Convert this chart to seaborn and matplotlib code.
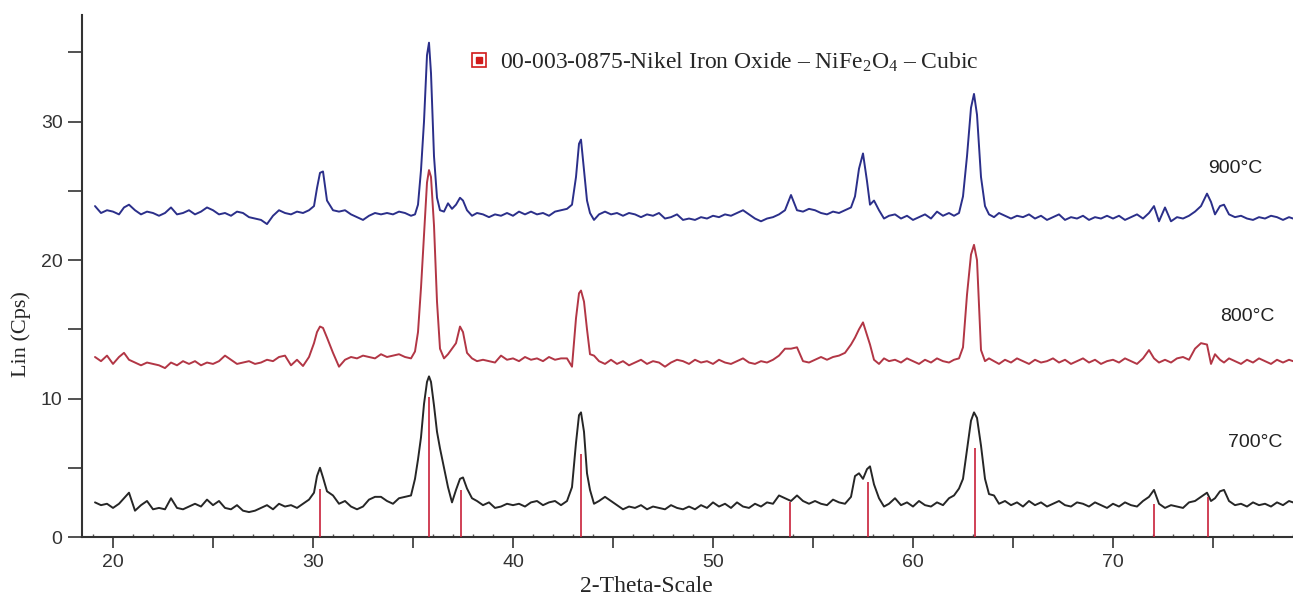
import numpy as np
import pandas as pd
import matplotlib
matplotlib.use("Agg")
import matplotlib.pyplot as plt
from matplotlib.lines import Line2D
from matplotlib.ticker import MultipleLocator, FuncFormatter
import seaborn as sns

# 2-theta grid shared by the three scans
two_theta = [
    19.1, 19.4, 19.7, 20.0, 20.3, 20.55, 20.8, 21.1, 21.4, 21.7,
    22.0, 22.3, 22.6, 22.9, 23.2, 23.5, 23.8, 24.1, 24.4, 24.7,
    25.0, 25.3, 25.6, 25.9, 26.2, 26.5, 26.8, 27.1, 27.4, 27.7,
    28.0, 28.3, 28.6, 28.9, 29.2, 29.5, 29.8, 30.05, 30.2, 30.35,
    30.5, 30.7, 31.0, 31.3, 31.6, 31.9, 32.2, 32.5, 32.8, 33.1,
    33.4, 33.7, 34.0, 34.3, 34.6, 34.9, 35.1, 35.25, 35.4, 35.55,
    35.7, 35.8, 35.9, 36.05, 36.2, 36.35, 36.55, 36.75, 36.95, 37.15,
    37.35, 37.5, 37.7, 37.95, 38.2, 38.5, 38.8, 39.1, 39.4, 39.7,
    40.0, 40.3, 40.6, 40.9, 41.2, 41.5, 41.8, 42.1, 42.4, 42.7,
    42.95, 43.15, 43.3, 43.4, 43.55, 43.7, 43.85, 44.05, 44.3, 44.6,
    44.9, 45.2, 45.5, 45.8, 46.1, 46.4, 46.7, 47.0, 47.3, 47.6,
    47.9, 48.2, 48.5, 48.8, 49.1, 49.4, 49.7, 50.0, 50.3, 50.6,
    50.9, 51.2, 51.5, 51.8, 52.1, 52.4, 52.7, 53.0, 53.3, 53.6,
    53.9, 54.2, 54.5, 54.8, 55.1, 55.4, 55.7, 56.0, 56.3, 56.6,
    56.9, 57.1, 57.3, 57.5, 57.7, 57.85, 58.05, 58.3, 58.55, 58.8,
    59.1, 59.4, 59.7, 60.0, 60.3, 60.6, 60.9, 61.2, 61.5, 61.8,
    62.05, 62.3, 62.5, 62.7, 62.9, 63.05, 63.2, 63.4, 63.6, 63.8,
    64.05, 64.3, 64.6, 64.9, 65.2, 65.5, 65.8, 66.1, 66.4, 66.7,
    67.0, 67.3, 67.6, 67.9, 68.2, 68.5, 68.8, 69.1, 69.4, 69.7,
    70.0, 70.3, 70.6, 70.9, 71.2, 71.5, 71.8, 72.05, 72.3, 72.6,
    72.9, 73.2, 73.5, 73.8, 74.1, 74.4, 74.7, 74.9, 75.1, 75.35,
    75.55, 75.8, 76.1, 76.4, 76.7, 77.0, 77.3, 77.6, 77.9, 78.2,
    78.5, 78.8, 79.0,
]

lin_700 = [
    2.5, 2.3, 2.4, 2.1, 2.4, 2.8, 3.2, 1.9, 2.3, 2.6,
    2.0, 2.1, 2.0, 2.8, 2.1, 2.0, 2.2, 2.4, 2.2, 2.7,
    2.3, 2.6, 2.1, 2.0, 2.3, 1.9, 1.8, 1.9, 2.1, 2.3,
    2.0, 2.4, 2.2, 2.3, 2.1, 2.4, 2.7, 3.2, 4.4, 5.0,
    4.3, 3.3, 3.0, 2.4, 2.6, 2.2, 2.0, 2.2, 2.7, 2.9,
    2.9, 2.6, 2.4, 2.8, 2.9, 3.0, 4.2, 5.6, 7.2, 9.6,
    11.2, 11.6, 11.2, 9.5, 7.6, 6.4, 5.0, 3.6, 2.5, 3.4,
    4.2, 4.3, 3.5, 2.8, 2.6, 2.3, 2.5, 2.1, 2.2, 2.4,
    2.3, 2.4, 2.2, 2.5, 2.6, 2.3, 2.5, 2.6, 2.3, 2.6,
    3.6, 6.8, 8.8, 9.0, 7.6, 4.6, 3.4, 2.4, 2.6, 2.9,
    2.6, 2.3, 2.0, 2.2, 2.1, 2.3, 2.0, 2.2, 2.1, 2.0,
    2.3, 2.1, 2.0, 2.2, 2.0, 2.3, 2.1, 2.5, 2.2, 2.4,
    2.1, 2.5, 2.2, 2.1, 2.4, 2.2, 2.5, 2.4, 3.0, 2.8,
    2.6, 3.0, 2.6, 2.4, 2.6, 2.4, 2.3, 2.7, 2.5, 2.4,
    2.9, 4.4, 4.6, 4.2, 4.9, 5.1, 3.8, 2.8, 2.2, 2.4,
    2.8, 2.3, 2.5, 2.2, 2.6, 2.3, 2.2, 2.5, 2.3, 2.8,
    3.0, 3.5, 4.2, 6.3, 8.4, 9.0, 8.6, 6.6, 4.2, 3.1,
    3.0, 2.4, 2.6, 2.3, 2.5, 2.2, 2.6, 2.3, 2.5, 2.2,
    2.4, 2.6, 2.3, 2.2, 2.5, 2.4, 2.2, 2.5, 2.3, 2.1,
    2.4, 2.2, 2.5, 2.3, 2.2, 2.6, 2.9, 3.4, 2.4, 2.1,
    2.3, 2.2, 2.1, 2.5, 2.6, 2.9, 3.2, 2.6, 2.8, 3.3,
    3.4, 2.6, 2.3, 2.4, 2.2, 2.5, 2.3, 2.4, 2.2, 2.5,
    2.3, 2.6, 2.5,
]

lin_800 = [
    13.0, 12.7, 13.1, 12.5, 13.0, 13.3, 12.8, 12.6, 12.4, 12.6,
    12.5, 12.4, 12.2, 12.6, 12.4, 12.7, 12.5, 12.7, 12.4, 12.6,
    12.5, 12.7, 13.1, 12.8, 12.5, 12.6, 12.7, 12.5, 12.6, 12.8,
    12.7, 13.0, 13.1, 12.4, 12.8, 12.35, 13.0, 14.0, 14.8, 15.2,
    15.1, 14.4, 13.3, 12.3, 12.8, 13.0, 12.9, 13.1, 13.0, 12.9,
    13.2, 13.0, 13.1, 13.2, 13.0, 12.9, 13.4, 14.8, 18.0, 21.8,
    25.6, 26.5, 26.0, 22.5, 17.0, 13.6, 12.9, 13.2, 13.6, 14.0,
    15.2, 14.8, 13.3, 12.9, 12.7, 12.8, 12.7, 12.6, 13.1, 12.8,
    12.9, 12.7, 13.0, 12.8, 12.9, 12.7, 13.0, 12.8, 12.9, 12.9,
    12.3, 15.8, 17.6, 17.8, 17.0, 15.0, 13.2, 13.1, 12.7, 12.5,
    12.8, 12.5, 12.7, 12.4, 12.6, 12.8, 12.5, 12.7, 12.6, 12.3,
    12.6, 12.8, 12.7, 12.5, 12.8, 12.6, 12.7, 12.5, 12.8, 12.6,
    12.5, 12.7, 12.9, 12.6, 12.5, 12.7, 12.6, 12.8, 13.1, 13.6,
    13.6, 13.7, 12.7, 12.6, 12.8, 13.0, 12.8, 13.0, 13.1, 13.3,
    13.9, 14.4, 15.0, 15.5, 14.6, 13.9, 12.8, 12.5, 12.9, 12.7,
    12.8, 12.6, 12.9, 12.7, 12.5, 12.8, 12.6, 12.9, 12.7, 12.6,
    12.8, 12.9, 13.7, 17.5, 20.4, 21.1, 20.0, 13.5, 12.7, 12.9,
    12.7, 12.5, 12.8, 12.6, 12.9, 12.7, 12.5, 12.8, 12.6, 12.7,
    12.9, 12.6, 12.8, 12.5, 12.7, 12.9, 12.6, 12.8, 12.5, 12.7,
    12.8, 12.6, 12.9, 12.7, 12.5, 12.9, 13.5, 12.9, 12.6, 12.8,
    12.6, 12.9, 13.0, 12.8, 13.6, 14.0, 13.9, 12.5, 13.2, 12.8,
    12.6, 12.9, 12.7, 12.5, 12.8, 12.6, 12.9, 12.7, 12.5, 12.8,
    12.6, 12.8, 12.7,
]

lin_900 = [
    23.9, 23.4, 23.6, 23.5, 23.3, 23.8, 24.0, 23.6, 23.3, 23.5,
    23.4, 23.2, 23.4, 23.8, 23.3, 23.4, 23.6, 23.3, 23.5, 23.8,
    23.6, 23.3, 23.4, 23.2, 23.5, 23.4, 23.1, 23.0, 22.9, 22.6,
    23.2, 23.6, 23.4, 23.3, 23.5, 23.4, 23.6, 23.9, 25.2, 26.3,
    26.4, 24.3, 23.6, 23.5, 23.6, 23.3, 23.1, 22.9, 23.2, 23.4,
    23.3, 23.4, 23.3, 23.5, 23.4, 23.2, 23.3, 24.0, 26.5, 30.0,
    34.8, 35.7, 33.5, 27.5, 24.5, 23.6, 23.5, 24.1, 23.7, 24.0,
    24.5, 24.3, 23.6, 23.2, 23.4, 23.3, 23.1, 23.3, 23.2, 23.4,
    23.2, 23.5, 23.3, 23.5, 23.3, 23.4, 23.2, 23.5, 23.6, 23.7,
    24.0, 26.0, 28.4, 28.7, 26.5, 24.3, 23.4, 22.9, 23.3, 23.5,
    23.3, 23.4, 23.2, 23.4, 23.3, 23.1, 23.3, 23.2, 23.4, 23.0,
    23.1, 23.3, 22.9, 23.0, 22.9, 23.1, 23.0, 23.2, 23.1, 23.3,
    23.2, 23.4, 23.6, 23.3, 23.0, 22.8, 23.0, 23.1, 23.3, 23.6,
    24.7, 23.6, 23.5, 23.7, 23.6, 23.4, 23.3, 23.5, 23.4, 23.6,
    23.8, 24.6, 26.6, 27.7, 25.7, 24.0, 24.3, 23.6, 23.0, 23.2,
    23.3, 23.0, 23.2, 22.9, 23.1, 23.3, 23.0, 23.5, 23.2, 23.4,
    23.2, 23.4, 24.6, 27.5, 31.0, 32.0, 30.5, 26.0, 23.9, 23.3,
    23.1, 23.4, 23.2, 23.0, 23.2, 23.1, 23.3, 23.0, 23.2, 22.9,
    23.1, 23.3, 22.9, 23.1, 23.0, 23.2, 22.9, 23.1, 23.0, 23.2,
    23.0, 23.2, 22.9, 23.1, 23.3, 23.0, 23.4, 23.9, 22.8, 23.8,
    22.8, 23.1, 23.0, 23.2, 23.5, 23.9, 24.8, 24.2, 23.3, 23.9,
    24.0, 23.3, 23.1, 23.2, 23.0, 22.9, 23.1, 23.0, 23.2, 23.1,
    22.9, 23.1, 23.0,
]

# reference pattern 00-003-0875 (NiFe2O4) stick positions / heights
ref_pos = [30.35, 35.82, 37.42, 43.38, 53.85, 57.75, 63.12, 72.05, 74.75]
ref_height = [3.5, 10.1, 3.4, 6.0, 2.5, 4.0, 6.4, 2.4, 2.9]

temps = ["700\u00b0C", "800\u00b0C", "900\u00b0C"]
label_x = [77.1, 76.7, 76.1]
label_y = [6.8, 15.9, 26.6]
colors = ["#262626", "#b23645", "#2b2f8a"]

df = pd.DataFrame({
    "theta": two_theta * 3,
    "lin": lin_700 + lin_800 + lin_900,
    "temp": [t for t in temps for _ in two_theta],
})

sns.set_style("ticks")
plt.rcParams["font.family"] = ["Liberation Sans", "DejaVu Sans"]
plt.rcParams["mathtext.fontset"] = "custom"
plt.rcParams["mathtext.rm"] = "Liberation Serif"
plt.rcParams["mathtext.it"] = "Liberation Serif:italic"

fig = plt.figure(figsize=(12.93, 6.01), dpi=100)
ax = fig.add_axes([82 / 1293, 64 / 601, 1 - 82 / 1293, 522 / 601])

sns.lineplot(data=df, x="theta", y="lin", hue="temp", palette=dict(zip(temps, colors)),
             estimator=None, sort=False, linewidth=1.4, legend=False, ax=ax)

ax.vlines(ref_pos, 0, ref_height, color="#c8203a", linewidth=1.2, zorder=3)

for t, lx, ly in zip(temps, label_x, label_y):
    ax.text(lx, ly, t, ha="center", va="center", fontsize=14, color="#222222")

# legend entry for the reference card
outer = Line2D([], [], ls="none", marker="s", ms=10, mfc="white", mec="#d11a1a", mew=1.2)
inner = Line2D([], [], ls="none", marker="s", ms=5, mfc="#d11a1a", mec="#d11a1a")
card = "00-003-0875-Nikel Iron Oxide \u2013 NiFe$_\\mathrm{2}$O$_\\mathrm{4}$ \u2013 Cubic"
leg = ax.legend([(outer, inner)], [card],
                loc="center left", bbox_to_anchor=(0.310, 0.91), frameon=False,
                handlelength=0.8, handletextpad=0.5, borderpad=0,
                prop={"family": "Liberation Serif", "size": 17})

ax.set_xlim(18.45, 79.0)
ax.set_ylim(0, 37.7)

ax.xaxis.set_major_locator(MultipleLocator(5))
ax.xaxis.set_minor_locator(MultipleLocator(1))
ax.yaxis.set_major_locator(MultipleLocator(5))
every_ten = FuncFormatter(lambda v, p: f"{v:.0f}" if round(v) % 10 == 0 else "")
ax.xaxis.set_major_formatter(every_ten)
ax.yaxis.set_major_formatter(every_ten)

ax.tick_params(axis="x", which="major", bottom=True, direction="out", length=8, width=1.2,
               labelsize=14, pad=4, colors="#333333")
ax.tick_params(axis="x", which="minor", bottom=True, direction="in", length=2.5, width=1.0,
               colors="#555555")
ax.tick_params(axis="y", which="major", left=True, direction="out", length=10, width=1.2,
               labelsize=14, pad=4, colors="#333333")
ax.tick_params(axis="y", which="minor", left=False)

for side in ["top", "right"]:
    ax.spines[side].set_visible(False)
for side in ["left", "bottom"]:
    ax.spines[side].set_color("#333333")
    ax.spines[side].set_linewidth(1.5)

ax.set_xlabel("2-Theta-Scale", family="Liberation Serif", fontsize=17)
ax.set_ylabel("Lin (Cps)", family="Liberation Serif", fontsize=16)
ax.xaxis.set_label_coords(0.466, -0.075)
ax.yaxis.set_label_coords(-0.042, 0.389)

fig.savefig("out.png", dpi=100)
